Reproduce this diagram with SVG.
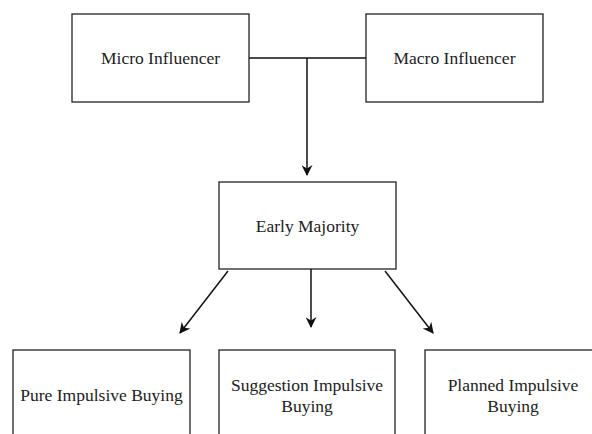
<svg xmlns="http://www.w3.org/2000/svg" width="592" height="434" viewBox="0 0 592 434">
<style>
.box{fill:#fff;stroke:#222;stroke-width:1.3}
.t{font-family:"Liberation Serif","Times New Roman",serif;font-size:17.5px;fill:#222;text-anchor:middle}
.c{fill:none;stroke:#111;stroke-width:1.5}
</style>
<defs>
<marker id="ah" viewBox="0 0 10 10" refX="9" refY="5" markerWidth="12" markerHeight="11" markerUnits="userSpaceOnUse" orient="auto">
<path d="M0,0 L10,5 L0,10 L3,5 Z" fill="#111"/>
</marker>
</defs>
<rect width="592" height="434" fill="#fff"/>
<g id="micro"><rect class="box" x="72" y="14" width="177" height="88"/><text class="t" x="160.5" y="64">Micro Influencer</text></g>
<g id="macro"><rect class="box" x="366" y="14" width="177" height="88"/><text class="t" x="454.5" y="64">Macro Influencer</text></g>
<g id="early"><rect class="box" x="219" y="182" width="177" height="87"/><text class="t" x="307.5" y="232">Early Majority</text></g>
<g id="pure"><rect class="box" x="13" y="350" width="177" height="100"/><text class="t" x="101.5" y="401">Pure Impulsive Buying</text></g>
<g id="suggestion"><rect class="box" x="219" y="350" width="176" height="100"/><text class="t" x="307" y="391">Suggestion Impulsive</text><text class="t" x="307" y="412">Buying</text></g>
<g id="planned"><rect class="box" x="425" y="350" width="176" height="100"/><text class="t" x="513" y="391">Planned Impulsive</text><text class="t" x="513" y="412">Buying</text></g>
<g id="connectors">
<path class="c" d="M249,58 H366"/>
<path class="c" d="M307,58 V175" marker-end="url(#ah)"/>
<path class="c" d="M311,269 V327" marker-end="url(#ah)"/>
<path class="c" d="M228,271 L180,333" marker-end="url(#ah)"/>
<path class="c" d="M385,271 L433,333" marker-end="url(#ah)"/>
</g>
</svg>
